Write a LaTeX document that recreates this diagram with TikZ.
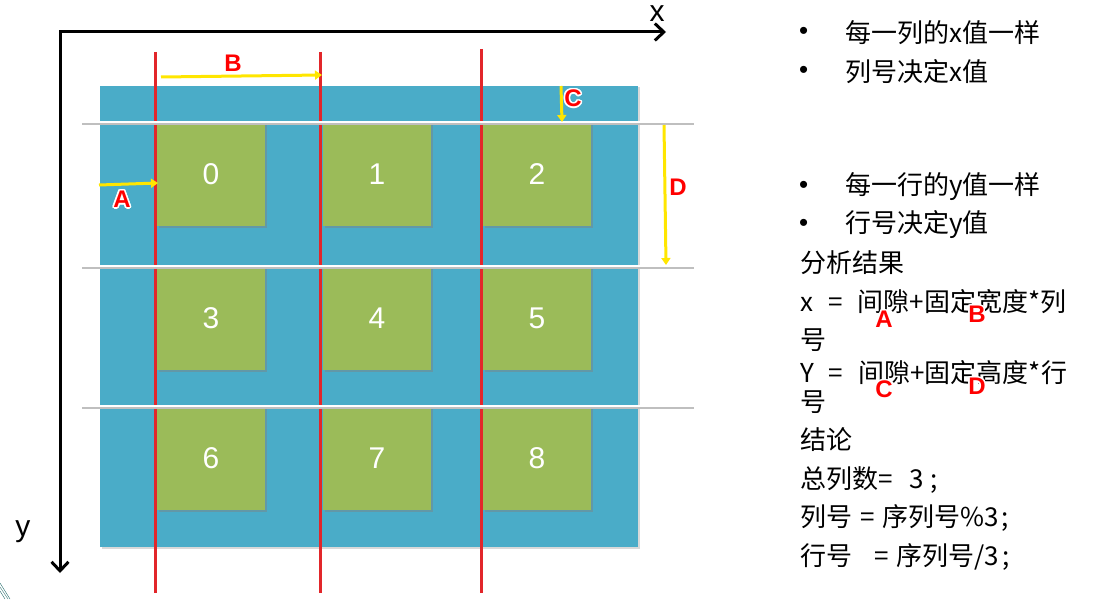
\documentclass[tikz,border=0pt]{standalone}
\usepackage{fontspec}
\setmainfont{Liberation Sans}
\newfontfamily\cjk{Noto Sans CJK SC}
\usepackage{contour}
\contourlength{1.5pt}
\usetikzlibrary{arrows.meta,shadows}

\definecolor{boardblue}{RGB}{74,172,200}
\definecolor{cellgreen}{RGB}{155,187,89}
\definecolor{linered}{RGB}{226,38,42}
\definecolor{gapyellow}{RGB}{255,230,0}
\definecolor{decoteal}{RGB}{40,110,110}

\tikzset{
  cell/.style={fill=cellgreen, minimum width=108pt, minimum height=104pt, inner sep=0pt,
    text=white, font=\fontsize{30}{30}\selectfont,
    drop shadow={shadow xshift=1.5pt, shadow yshift=-1.5pt, opacity=0.45}},
  redline/.style={draw=linered, line width=3pt},
  whiteline/.style={draw=white, line width=2.5pt},
  greyline/.style={draw=black!25, line width=2.5pt},
  gap/.style={draw=gapyellow, line width=3pt, -{Triangle[length=7pt,width=9pt]}},
  tag/.style={text=red, inner sep=0pt, font=\bfseries\fontsize{24}{24}\selectfont},
  axis/.style={line width=3pt, line join=miter,
    {Straight Barb[length=9pt,width=17pt]}-{Straight Barb[length=9pt,width=17pt]}},
  note/.style={anchor=west, inner sep=0pt, font=\cjk\fontsize{26}{26}\selectfont},
  dot/.style={anchor=west, inner sep=0pt, font=\fontsize{26}{26}\selectfont},
}

\begin{document}
\begin{tikzpicture}[x=1pt,y=-1pt]
\useasboundingbox (0,0) rectangle (1099,599);
% board
\fill[boardblue, drop shadow={shadow xshift=1.5pt, shadow yshift=-1.5pt, opacity=0.3}] (100,86) rectangle (638,547);
% cells
\node[cell] (c0) at (211,174) {0};
\node[cell] (c1) at (377,174) {1};
\node[cell] (c2) at (537,174) {2};
\node[cell] (c3) at (211,318) {3};
\node[cell] (c4) at (377,318) {4};
\node[cell] (c5) at (537,318) {5};
\node[cell] (c6) at (211,458) {6};
\node[cell] (c7) at (377,458) {7};
\node[cell] (c8) at (537,458) {8};
% column lines
\draw[redline] (155,52) -- (155,593);
\draw[redline] (320,52) -- (320,593);
\draw[redline] (481,49) -- (481,593);
% row lines
\draw[greyline] (82,124) -- (694,124);
\draw[greyline] (82,268) -- (694,268);
\draw[greyline] (82,408) -- (694,408);
\draw[whiteline] (82,122) -- (694,122);
\draw[whiteline] (82,266) -- (694,266);
\draw[whiteline] (82,406) -- (694,406);
% axes
\coordinate (o) at (60,32);
\coordinate (xend) at (666,32);
\coordinate (yend) at (60,573);
\draw[axis] (xend) -- (o) -- (yend);
\node[inner sep=0pt] (xlab) at (657,14) {\fontsize{30}{30}\selectfont x};
\node[inner sep=0pt] (ylab) at (23,532) {\fontsize{30}{30}\selectfont y};
% gaps
\coordinate (a1) at (99,185);
\coordinate (a2) at (158,183);
\coordinate (b1) at (161,77);
\coordinate (b2) at (322,75);
\coordinate (cc1) at (561,86);
\coordinate (cc2) at (562,122);
\coordinate (d1) at (664,125);
\coordinate (d2) at (666,265);
\draw[gap] (a1) -- (a2);
\draw[gap] (b1) -- (b2);
\draw[gap] (cc1) -- (cc2);
\draw[gap] (d1) -- (d2);
\node[tag] (ta) at (122,200) {\contour{white}{A}};
\node[tag] (tb) at (233,64) {\contour{white}{B}};
\node[tag] (tc) at (573,99) {\contour{white}{C}};
\node[tag] (td) at (678,188) {\contour{white}{D}};
% notes
\node[dot] (p1) at (799,33) {\textbullet};
\node[dot] (p2) at (799,72) {\textbullet};
\node[dot] (p3) at (799,187) {\textbullet};
\node[dot] (p4) at (799,225) {\textbullet};
\node[note] (n1) at (845,33) {每一列的x值一样};
\node[note] (n2) at (845,72) {列号决定x值};
\node[note] (n3) at (845,187) {每一行的y值一样};
\node[note] (n4) at (845,225) {行号决定y值};
\node[note] (n5) at (800,263) {分析结果};
\node[note] (n6) at (800,302) {x\hspace{15pt}=\hspace{15pt}间隙+固定宽度*列};
\node[note] (n7) at (800,340) {号};
\node[note] (n8) at (800,373) {Y\hspace{15pt}=\hspace{15pt}间隙+固定高度*行};
\node[note] (n9) at (800,402) {号};
\node[note] (n10) at (800,440) {结论};
\node[note] (n11) at (800,480) {总列数=\hspace{17pt}3\hspace{6pt};};
\node[note] (n12) at (800,518) {列号\hspace{8pt}=\hspace{8pt}序列号\%3\hspace{2pt};};
\node[note] (n13) at (800,557) {行号\hspace{22pt}=\hspace{8pt}序列号/3\hspace{3pt};};
\node[tag] (fa) at (884,320) {\contour{white}{A}};
\node[tag] (fb) at (977,315) {\contour{white}{B}};
\node[tag] (fc) at (884,390) {\contour{white}{C}};
\node[tag] (fd) at (977,387) {\contour{white}{D}};
% corner
\draw[decoteal, thin] (0,583) -- (10,599);
\draw[decoteal, thin] (0,587) -- (8,599);
\draw[decoteal, thin] (0,591) -- (5,599);
\end{tikzpicture}
\end{document}
